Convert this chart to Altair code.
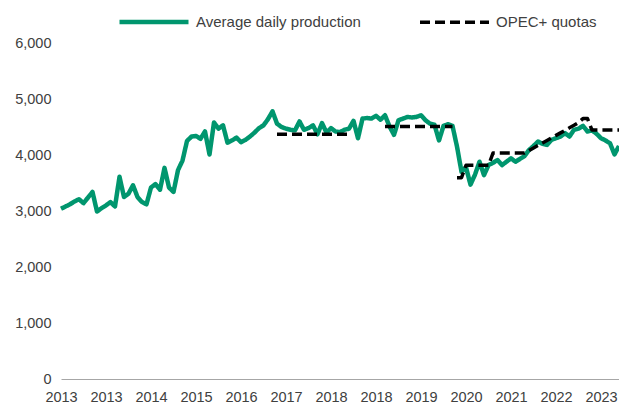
import altair as alt
import pandas as pd

# Monthly average daily production (kb/d), Jan 2013 .. May 2023
production = [
    3040, 3080, 3120, 3170, 3210, 3140, 3240, 3340, 2990, 3050,
    3100, 3160, 3080, 3610, 3250, 3310, 3460, 3250, 3160, 3120,
    3420, 3480, 3380, 3770, 3420, 3340, 3730, 3900, 4250, 4330,
    4340, 4290, 4420, 4010, 4580, 4470, 4530, 4220, 4260, 4310,
    4230, 4270, 4330, 4400, 4480, 4530, 4640, 4780, 4560, 4500,
    4470, 4450, 4440, 4600, 4450, 4480, 4530, 4370, 4570, 4400,
    4480, 4420, 4410, 4450, 4470, 4610, 4300, 4650, 4660, 4650,
    4700, 4630, 4710, 4510, 4360, 4620, 4650, 4680, 4670, 4680,
    4710, 4620, 4560, 4540, 4260, 4520, 4550, 4520, 4150, 3700,
    3780, 3470, 3650, 3880, 3640, 3820, 3860, 3910, 3820, 3880,
    3940, 3880, 3930, 3980, 4090, 4160, 4240, 4200, 4180, 4270,
    4300, 4330, 4390, 4330, 4450, 4470, 4520, 4420, 4440, 4380,
    4300, 4260, 4210, 4010, 4160,
]

# OPEC+ quota segments: (first month index, values)
quota_2017_start = 48
quota_2017 = [4370, 4370, 4370, 4370, 4370, 4370, 4370, 4370, 4370,
              4370, 4370, 4370, 4370, 4370, 4370, 4370, 4370]
quota_2019_start = 72
quota_2019 = [4510, 4510, 4510, 4510, 4510, 4510, 4510, 4510,
              4510, 4510, 4510, 4510, 4510, 4510, 4510, 4510]
quota_2020_start = 88
quota_2020 = [3595, 3595,
              3815, 3815, 3815, 3815, 3815, 3815,
              4035, 4035, 4035, 4035, 4035, 4035, 4035, 4035,
              4080, 4125, 4170, 4215, 4260, 4305, 4350, 4395,
              4440, 4485, 4530, 4580, 4650, 4650,
              4445, 4445, 4445, 4445, 4445, 4445, 4445]

tick_months = [0, 10, 20, 30, 40, 50, 60, 70, 80, 90, 100, 110, 120]
tick_labels = ["2013", "2013", "2014", "2015", "2016", "2017", "2018",
               "2018", "2019", "2020", "2021", "2022", "2023"]
y_ticks = [0, 1000, 2000, 3000, 4000, 5000, 6000]

series_names = ["Average daily production", "OPEC+ quotas"]

rows = []
for i, v in enumerate(production):
    rows.append({"m": i, "v": v, "series": series_names[0], "seg": "p"})
for seg, (start, vals) in enumerate([(quota_2017_start, quota_2017),
                                     (quota_2019_start, quota_2019),
                                     (quota_2020_start, quota_2020)]):
    for j, v in enumerate(vals):
        rows.append({"m": start + j, "v": v, "series": series_names[1], "seg": f"q{seg}"})
df = pd.DataFrame(rows)

months_js = "[" + ",".join(str(t) for t in tick_months) + "]"
labels_js = "[" + ",".join(f"'{t}'" for t in tick_labels) + "]"

FONT = "Liberation Sans"
TXT = "#404040"

x_enc = alt.X("m:Q", scale=alt.Scale(domain=[0, len(production) - 1], nice=False, zero=False),
              axis=alt.Axis(values=tick_months, labelExpr=f"{labels_js}[indexof({months_js}, datum.value)]",
                            title=None, grid=False, ticks=False, domainColor="#A6A6A6", domainWidth=1,
                            labelFont=FONT, labelFontSize=14.5, labelColor=TXT, labelPadding=11,
                            labelFlush=False, labelOverlap=False))
y_enc = alt.Y("v:Q", scale=alt.Scale(domain=[0, 6000], nice=False),
              axis=alt.Axis(values=y_ticks, format=",.0f", title=None, grid=False, ticks=False, domain=False,
                            labelFont=FONT, labelFontSize=14.5, labelColor=TXT, labelPadding=10))
legend = alt.Legend(title=None, orient="none", legendX=56, legendY=-58, direction="horizontal",
                    symbolSize=4761, labelFont=FONT, labelFontSize=15, labelColor=TXT, labelLimit=400,
                    labelOffset=5, columnPadding=52, padding=0, symbolType="stroke")
color_enc = alt.Color("series:N", scale=alt.Scale(domain=series_names, range=["#00966E", "#000000"]),
                      legend=legend)
dash_enc = alt.StrokeDash("series:N", scale=alt.Scale(domain=series_names, range=[[1, 0], [10, 5]]),
                          legend=legend)
width_enc = alt.StrokeWidth("series:N", scale=alt.Scale(domain=series_names, range=[4.5, 3.5]),
                            legend=legend)

base = alt.Chart(df).mark_line(strokeJoin="round", clip=False).encode(
    x=x_enc, y=y_enc, color=color_enc, strokeDash=dash_enc, strokeWidth=width_enc, detail="seg:N"
)
prod_layer = base.transform_filter(alt.datum.series == series_names[0])
quota_layer = base.transform_filter(alt.datum.series == series_names[1])

chart = alt.layer(prod_layer, quota_layer).properties(
    width=558, height=336,
    autosize=alt.AutoSizeParams(type="none"),
    padding={"left": 53, "top": 35, "right": 0, "bottom": 24},
    background="white",
).configure_view(stroke=None)

chart.save("out.html", embed_options={"renderer": "svg", "actions": False})
